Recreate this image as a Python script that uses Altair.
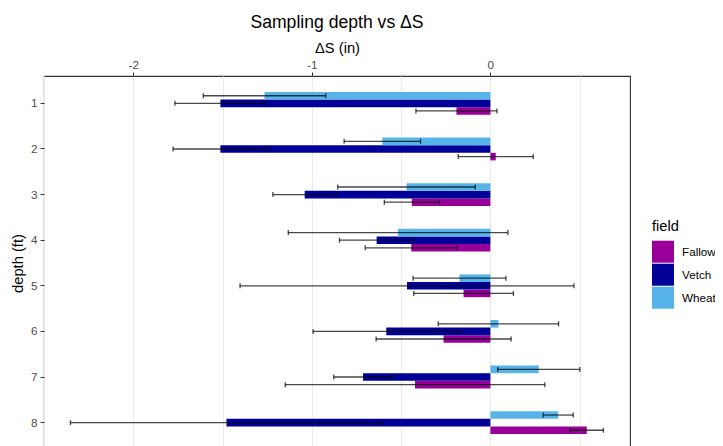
import altair as alt
import pandas as pd

depth_levels = [1, 2, 3, 4, 5, 6, 7, 8]
field_names = ["Fallow", "Vetch", "Wheat"]
field_colors = ["#990099", "#000099", "#56B4E9"]

fallow_vals = [-0.19, 0.03, -0.44, -0.443, -0.15, -0.262, -0.422, 0.54]
vetch_vals = [-1.512, -1.512, -1.04, -0.637, -0.467, -0.583, -0.713, -1.478]
wheat_vals = [-1.265, -0.605, -0.47, -0.517, -0.173, 0.045, 0.271, 0.38]

fallow_err = [0.227, 0.21, 0.154, 0.258, 0.279, 0.378, 0.727, 0.093]
vetch_err = [0.255, 0.265, 0.178, 0.208, 0.935, 0.41, 0.164, 0.874]
wheat_err = [0.343, 0.214, 0.385, 0.615, 0.26, 0.337, 0.23, 0.084]

rows = []
for name, vals, errs in [("Fallow", fallow_vals, fallow_err),
                         ("Vetch", vetch_vals, vetch_err),
                         ("Wheat", wheat_vals, wheat_err)]:
    for d, v, e in zip(depth_levels, vals, errs):
        rows.append({"depth": d, "field": name, "value": v, "lo": v - e, "hi": v + e})
df = pd.DataFrame(rows)

FONT = "Liberation Sans"

y_enc = alt.Y("depth:O",
              scale=alt.Scale(paddingInner=0.5, paddingOuter=0.35),
              axis=alt.Axis(title="depth (ft)", orient="left", domain=False,
                            tickColor="#333333", tickSize=4, tickWidth=1,
                            labelColor="#4d4d4d", labelFontSize=11.7, labelPadding=3,
                            labelFont=FONT, titleFont=FONT, titleFontSize=14.7,
                            titleFontWeight="normal", titleColor="black", titlePadding=5,
                            gridColor="#ebebeb", gridWidth=1))
yoff_enc = alt.YOffset("field:N", scale=alt.Scale(domain=["Wheat", "Vetch", "Fallow"],
                                                 paddingInner=0, paddingOuter=0))

x_axis = alt.Axis(title="ΔS (in)", orient="top", domain=False,
                  values=[-2.5, -2, -1.5, -1, -0.5, 0, 0.5],
                  labelExpr="datum.value % 1 === 0 ? ('' + datum.value) : ''",
                  tickOpacity={"condition": {"test": "datum.value % 1 !== 0", "value": 0}, "value": 1},
                  tickColor="#333333", tickSize=4, tickWidth=1,
                  labelColor="#4d4d4d", labelFontSize=11.7, labelPadding=2,
                  labelFont=FONT, titleFont=FONT, titleFontSize=14.7,
                  titleFontWeight="normal", titleColor="black", titlePadding=4,
                  gridColor="#ebebeb", gridWidth=1)
x_scale = alt.Scale(domain=[-2.5, 0.782], nice=False, zero=False)

base = alt.Chart(df)

bars = base.mark_bar(opacity=1).encode(
    x=alt.X("value:Q", scale=x_scale, axis=x_axis),
    y=y_enc,
    yOffset=yoff_enc,
    color=alt.Color("field:N",
                    scale=alt.Scale(domain=field_names, range=field_colors),
                    legend=alt.Legend(title="field", orient="none", legendX=608, legendY=143,
                                      symbolType="square", symbolSize=484, symbolStrokeWidth=0,
                                      symbolOpacity=1, rowPadding=1, titlePadding=7,
                                      labelOffset=8, labelFont=FONT, labelFontSize=11.7,
                                      labelColor="black", titleFont=FONT, titleFontSize=14.7,
                                      titleFontWeight="normal", titleColor="black")),
)

err = base.mark_rule(color="black", opacity=0.72, strokeWidth=1.3).encode(
    x=alt.X("lo:Q", scale=x_scale), x2="hi:Q", y=y_enc, yOffset=yoff_enc)

caps = base.transform_fold(["lo", "hi"], as_=["end", "pos"]).mark_tick(
    color="black", opacity=0.72, size=5, thickness=1.3, orient="vertical").encode(
    x=alt.X("pos:Q", scale=x_scale), y=y_enc, yOffset=yoff_enc)

chart = alt.layer(bars, err, caps).properties(
    width=586, height=374,
    view=alt.ViewBackground(stroke="#333333", strokeWidth=1.1, strokeOpacity=1),
    title=alt.TitleParams("Sampling depth vs ΔS", font=FONT, fontSize=17.6,
                          fontWeight="normal", color="black", anchor="middle", offset=8),
    autosize=alt.AutoSizeParams(type="none"),
    padding={"left": 36, "top": 68, "right": 85, "bottom": 0},
).configure_view(stroke="#333333", strokeWidth=1.1).configure(font=FONT)

chart.save("out.html", embed_options={"renderer": "svg", "actions": False})
